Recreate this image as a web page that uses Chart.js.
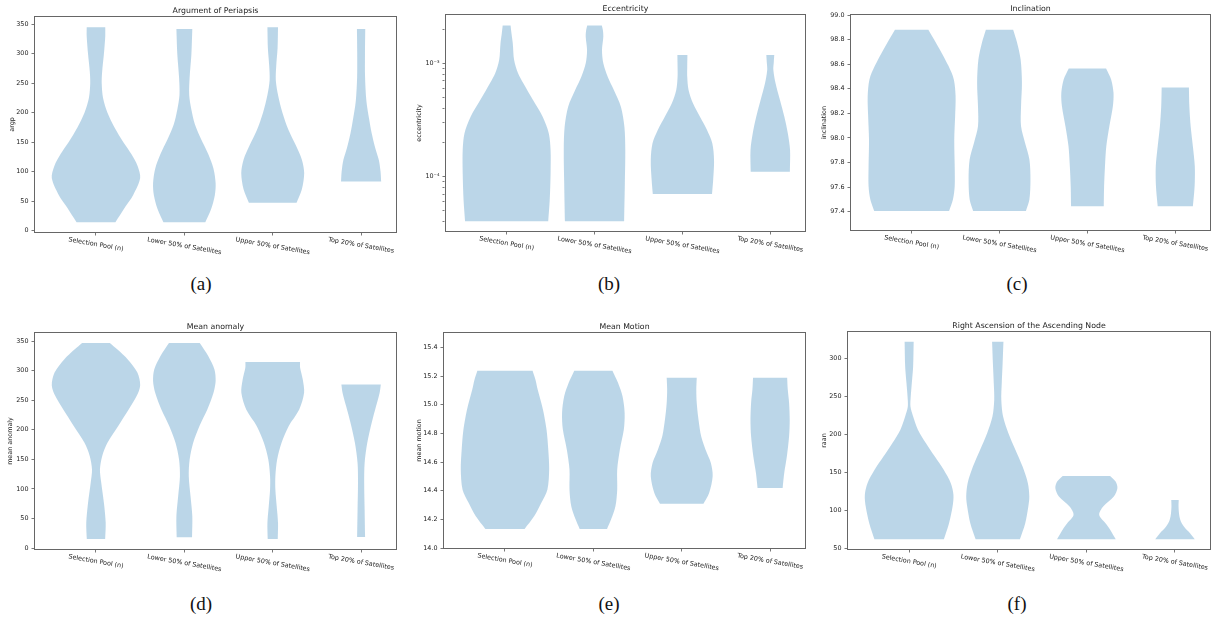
<!DOCTYPE html>
<html>
<head>
<meta charset="utf-8">
<script src="https://cdn.jsdelivr.net/npm/chart.js@4.4.1/dist/chart.umd.min.js"></script>
<style>
  html, body { margin: 0; padding: 0; background: #fff; }
  body { position: relative; width: 1211px; height: 618px; overflow: hidden; }
  canvas { position: absolute; }
  .cap {
    position: absolute;
    font-family: "Liberation Serif", "Times New Roman", serif;
    font-size: 19px;
    line-height: 1;
    color: #111;
    transform: translate(-50%, -50%);
  }
</style>
</head>
<body>
<div class="cap" style="left:201px;top:283px">(a)</div>
<div class="cap" style="left:609px;top:283px">(b)</div>
<div class="cap" style="left:1017px;top:283px">(c)</div>
<div class="cap" style="left:201px;top:603px">(d)</div>
<div class="cap" style="left:609px;top:603px">(e)</div>
<div class="cap" style="left:1017px;top:603px">(f)</div>

<script>
// groups on the x axis
const groups = ['Selection Pool (n)', 'Lower 50% of Satellites', 'Upper 50% of Satellites', 'Top 20% of Satellites'];
const groupPos = [1, 2, 3, 4];

// each violin: levels (data units) and half widths (in group units), bottom to top
const argpLevels = [
  [14, 40, 60, 89, 110, 130, 150, 175, 200, 225, 250, 270, 300, 330, 345],
  [14, 35, 60, 80, 105, 130, 155, 180, 205, 230, 260, 300, 342],
  [47, 70, 97, 120, 145, 170, 200, 230, 255, 280, 310, 345],
  [83, 100, 120, 140, 165, 190, 220, 260, 300, 342]
];
const argpWidths = [
  [0.22, 0.33, 0.42, 0.5, 0.47, 0.40, 0.31, 0.21, 0.13, 0.08, 0.065, 0.07, 0.09, 0.105, 0.105],
  [0.237, 0.30, 0.345, 0.354, 0.33, 0.27, 0.19, 0.12, 0.08, 0.055, 0.06, 0.08, 0.09],
  [0.27, 0.33, 0.356, 0.33, 0.26, 0.18, 0.11, 0.06, 0.035, 0.04, 0.055, 0.06],
  [0.227, 0.22, 0.2, 0.16, 0.12, 0.09, 0.06, 0.045, 0.044, 0.047]
];
const argpTicks = [0, 50, 100, 150, 200, 250, 300, 350];

const eccLevels = [
  [4.04e-5, 6.2e-5, 1.07e-4, 1.72e-4, 2.41e-4, 3.38e-4, 4.74e-4, 6.66e-4, 8.16e-4, 1.07e-3, 1.5e-3, 1.84e-3, 2.16e-3],
  [4.04e-5, 8.73e-5, 1.72e-4, 2.76e-4, 4.15e-4, 5.82e-4, 7.62e-4, 1.0e-3, 1.31e-3, 1.72e-3, 1.97e-3, 2.16e-3],
  [7.03e-5, 9.35e-5, 1.4e-4, 1.97e-4, 2.58e-4, 3.38e-4, 4.44e-4, 5.82e-4, 7.62e-4, 9.35e-4, 1.185e-3],
  [1.107e-4, 1.72e-4, 2.41e-4, 3.38e-4, 4.74e-4, 6.66e-4, 8.73e-4, 1.03e-3, 1.185e-3]
];
const eccWidths = [
  [0.473, 0.49, 0.5, 0.5, 0.48, 0.41, 0.3, 0.19, 0.13, 0.085, 0.07, 0.055, 0.045],
  [0.337, 0.345, 0.35, 0.34, 0.3, 0.22, 0.15, 0.1, 0.085, 0.1, 0.095, 0.083],
  [0.337, 0.35, 0.36, 0.34, 0.28, 0.2, 0.12, 0.07, 0.055, 0.055, 0.057],
  [0.223, 0.225, 0.2, 0.16, 0.11, 0.06, 0.035, 0.04, 0.045]
];
const eccTicks = [4e-5, 5e-5, 6e-5, 7e-5, 8e-5, 9e-5, 1e-4, 2e-4, 3e-4, 4e-4, 5e-4, 6e-4, 7e-4, 8e-4, 9e-4, 1e-3, 2e-3];
const eccMajor = [1e-4, 1e-3];
const eccMajorLabels = ['10⁻⁴', '10⁻³'];

const incLevels = [
  [97.405, 97.498, 97.606, 97.769, 97.987, 98.177, 98.34, 98.476, 98.584, 98.72, 98.88],
  [97.405, 97.498, 97.661, 97.824, 97.96, 98.095, 98.258, 98.449, 98.639, 98.775, 98.88],
  [97.443, 97.606, 97.769, 97.932, 98.095, 98.258, 98.367, 98.476, 98.565],
  [97.443, 97.606, 97.769, 97.932, 98.095, 98.258, 98.41]
];
const incWidths = [
  [0.426, 0.47, 0.49, 0.49, 0.485, 0.495, 0.5, 0.48, 0.42, 0.32, 0.19],
  [0.30, 0.34, 0.352, 0.34, 0.29, 0.245, 0.245, 0.255, 0.24, 0.2, 0.155],
  [0.186, 0.19, 0.2, 0.215, 0.25, 0.29, 0.297, 0.27, 0.212],
  [0.2, 0.22, 0.222, 0.2, 0.175, 0.16, 0.155]
];
const incTicks = [97.4, 97.6, 97.8, 98.0, 98.2, 98.4, 98.6, 98.8, 99.0];

const maLevels = [
  [15.2, 42.3, 76.2, 110.1, 132.7, 155.3, 177.9, 206.1, 234.3, 256.9, 275, 296.4, 319, 336, 346.7],
  [18.1, 53.6, 87.5, 121.4, 149.6, 177.9, 206.1, 234.3, 262.6, 282.3, 302.1, 324.7, 346.7],
  [15.2, 42.3, 70.6, 98.8, 121.4, 149.6, 177.9, 206.1, 234.3, 262.6, 285.1, 304.9, 314.5],
  [18.6, 64.9, 110.1, 144, 177.9, 211.7, 240, 262.6, 276.7]
];
const maWidths = [
  [0.104, 0.11, 0.09, 0.06, 0.045, 0.07, 0.13, 0.25, 0.37, 0.46, 0.5, 0.47, 0.36, 0.24, 0.157],
  [0.087, 0.09, 0.07, 0.05, 0.06, 0.1, 0.17, 0.26, 0.33, 0.354, 0.34, 0.27, 0.174],
  [0.057, 0.06, 0.045, 0.03, 0.03, 0.05, 0.1, 0.18, 0.3, 0.355, 0.34, 0.31, 0.309],
  [0.045, 0.04, 0.035, 0.04, 0.07, 0.12, 0.17, 0.21, 0.223]
];
const maTicks = [0, 50, 100, 150, 200, 250, 300, 350];

const mmLevels = [
  [14.133, 14.221, 14.314, 14.407, 14.547, 14.686, 14.826, 14.965, 15.105, 15.174, 15.237],
  [14.133, 14.198, 14.291, 14.407, 14.547, 14.686, 14.826, 14.942, 15.058, 15.151, 15.237],
  [14.309, 14.384, 14.5, 14.593, 14.686, 14.779, 14.895, 15.012, 15.105, 15.188],
  [14.419, 14.523, 14.64, 14.779, 14.895, 15.012, 15.105, 15.188]
];
const mmWidths = [
  [0.222, 0.33, 0.41, 0.48, 0.5, 0.49, 0.47, 0.43, 0.37, 0.345, 0.3125],
  [0.155, 0.2, 0.25, 0.27, 0.27, 0.3, 0.345, 0.354, 0.33, 0.28, 0.216],
  [0.246, 0.31, 0.35, 0.33, 0.27, 0.22, 0.19, 0.17, 0.165, 0.17],
  [0.142, 0.16, 0.19, 0.215, 0.222, 0.215, 0.2, 0.193]
];
const mmTicks = [14.0, 14.2, 14.4, 14.6, 14.8, 15.0, 15.2, 15.4];

const raanLevels = [
  [61.9, 83, 104.9, 120.3, 135.7, 153.3, 170.8, 188.4, 206, 223.6, 236.7, 249.9, 267.5, 289.5, 322],
  [61.9, 83, 104.9, 118.1, 135.7, 157.6, 179.6, 201.6, 223.6, 245.5, 267.5, 293.8, 322],
  [61.9, 74.2, 83, 93.9, 104.9, 118.1, 129.1, 137.9, 145.3],
  [61.9, 69.8, 78.6, 87.3, 96.1, 104.9, 113.7]
];
const raanWidths = [
  [0.392, 0.45, 0.49, 0.5, 0.47, 0.39, 0.29, 0.19, 0.1, 0.045, 0.015, 0.018, 0.03, 0.045, 0.051],
  [0.25, 0.31, 0.345, 0.356, 0.34, 0.28, 0.2, 0.12, 0.06, 0.04, 0.045, 0.055, 0.064],
  [0.331, 0.27, 0.216, 0.145, 0.19, 0.31, 0.35, 0.33, 0.267],
  [0.223, 0.17, 0.1, 0.06, 0.045, 0.04, 0.042]
];
const raanTicks = [50, 100, 150, 200, 250, 300];

const fmtInt = v => String(Math.round(v));
const fmtOne = v => v.toFixed(1);

// panel layout: canvas position, y axis width, plot size
const panels = [
  { title: 'Argument of Periapsis', yLabel: 'argp', levels: argpLevels, widths: argpWidths, ticks: argpTicks,
    yType: 'linear', yMin: -2.6, yMax: 362.5, fmt: fmtInt, left: 7, top: 4, axisW: 28, plotW: 361, plotH: 215 },
  { title: 'Eccentricity', yLabel: 'eccentricity', levels: eccLevels, widths: eccWidths, ticks: eccTicks,
    yType: 'logarithmic', yMin: 3.32e-5, yMax: 2.67e-3,
    fmt: v => { const k = eccMajor.indexOf(v); return k >= 0 ? eccMajorLabels[k] : ''; },
    left: 414, top: 2, axisW: 32, plotW: 359, plotH: 216 },
  { title: 'Inclination', yLabel: 'inclination', levels: incLevels, widths: incWidths, ticks: incTicks,
    yType: 'linear', yMin: 97.25, yMax: 99.0, fmt: fmtOne, left: 819, top: 2, axisW: 32, plotW: 359, plotH: 215 },
  { title: 'Mean anomaly', yLabel: 'mean anomaly', levels: maLevels, widths: maWidths, ticks: maTicks,
    yType: 'linear', yMin: -1.6, yMax: 363.6, fmt: fmtInt, left: 5, top: 320, axisW: 30, plotW: 361, plotH: 216 },
  { title: 'Mean Motion', yLabel: 'mean motion', levels: mmLevels, widths: mmWidths, ticks: mmTicks,
    yType: 'linear', yMin: 14.0, yMax: 15.5, fmt: fmtOne, left: 414, top: 320, axisW: 30, plotW: 361, plotH: 215 },
  { title: 'Right Ascension of the Ascending Node', yLabel: 'raan', levels: raanLevels, widths: raanWidths, ticks: raanTicks,
    yType: 'linear', yMin: 49, yMax: 335, fmt: fmtInt, left: 819, top: 319, axisW: 29, plotW: 362, plotH: 217 }
];

Chart.defaults.font.family = '"DejaVu Sans", sans-serif';
Chart.defaults.color = '#222';

const violinFill = 'rgba(31, 119, 180, 0.3)';
const titleH = 13, xAxisH = 45, padRight = 3;

function violinPoints(pos, levels, widths) {
  const n = levels.length;
  const right = levels.map((v, i) => ({ x: pos + widths[i], y: v }));
  const left = levels.map((v, i) => ({ x: pos - widths[i], y: v })).reverse();
  // corners repeated so the flat ends stay sharp
  return [left[n - 1], right[0], ...right, right[n - 1], left[0], ...left];
}

// frame on four sides + rotated group labels
const axesDecor = {
  id: 'axesDecor',
  afterDraw(chart) {
    const { ctx, chartArea: a, scales: { x } } = chart;
    ctx.save();
    ctx.strokeStyle = '#666';
    ctx.lineWidth = 1;
    const l = Math.round(a.left), t = Math.round(a.top), r = Math.round(a.right), b = Math.round(a.bottom);
    ctx.strokeRect(l - 0.5, t - 0.5, r - l + 1, b - t + 1);

    ctx.font = '6.4px "DejaVu Sans"';
    ctx.fillStyle = '#222';
    ctx.textAlign = 'center';
    ctx.textBaseline = 'middle';
    const ang = 10 * Math.PI / 180;
    groups.forEach((g, i) => {
      const w = ctx.measureText(g).width;
      const bh = w * Math.sin(ang) + 6.4 * Math.cos(ang);
      const px = x.getPixelForValue(groupPos[i]);
      const py = a.bottom + 4.5 + bh / 2;
      ctx.save();
      ctx.translate(px, py);
      ctx.rotate(ang);
      ctx.fillText(g, 0, 0);
      ctx.restore();
    });
    ctx.restore();
  }
};

panels.forEach(p => {
  const canvas = document.createElement('canvas');
  const cw = p.axisW + p.plotW + padRight;
  const ch = titleH + p.plotH + xAxisH;
  canvas.width = cw;
  canvas.height = ch;
  canvas.style.left = p.left + 'px';
  canvas.style.top = p.top + 'px';
  canvas.style.width = cw + 'px';
  canvas.style.height = ch + 'px';
  document.body.appendChild(canvas);

  const datasets = groupPos.map((pos, i) => ({
    data: violinPoints(pos, p.levels[i], p.widths[i]),
    backgroundColor: violinFill,
    borderWidth: 0,
    pointRadius: 0,
    tension: 0.3,
    fill: 'shape'
  }));

  new Chart(canvas, {
    type: 'line',
    data: { datasets },
    options: {
      indexAxis: 'y',
      responsive: false,
      animation: false,
      events: [],
      devicePixelRatio: 1,
      layout: { padding: { left: 0, right: padRight, top: 0, bottom: 0 } },
      plugins: {
        legend: { display: false },
        tooltip: { enabled: false },
        title: {
          display: true,
          text: p.title,
          fullSize: false,
          color: '#222',
          font: { size: 7.8, weight: 'normal' },
          padding: { top: 2.3, bottom: 1.34 }
        }
      },
      scales: {
        x: {
          type: 'linear',
          min: 0.31,
          max: 4.395,
          border: { display: false },
          grid: { drawOnChartArea: false, drawTicks: true, tickLength: 3.5, tickColor: '#555', tickWidth: 0.8 },
          ticks: { display: false },
          afterBuildTicks: s => { s.ticks = groupPos.map(v => ({ value: v })); },
          afterFit: s => { s.height = xAxisH; }
        },
        y: {
          type: p.yType,
          min: p.yMin,
          max: p.yMax,
          border: { display: false },
          grid: {
            drawOnChartArea: false, drawTicks: true, tickLength: 3.5, tickColor: '#555', tickWidth: 0.8,
            tickBorderDash: c => (p.yType === 'logarithmic' && eccMajor.indexOf(c.tick.value) < 0) ? [2, 20] : []
          },
          ticks: {
            autoSkip: false,
            padding: 3,
            font: { size: 6.4 },
            color: '#222',
            callback: v => p.fmt(v)
          },
          afterBuildTicks: s => { s.ticks = p.ticks.map(v => ({ value: v })); },
          afterFit: s => { s.width = p.axisW; },
          title: {
            display: true,
            text: p.yLabel,
            color: '#222',
            font: { size: 6.4 },
            padding: { top: 2, bottom: 0 }
          }
        }
      }
    },
    plugins: [axesDecor]
  });
});
</script>
</body>
</html>
